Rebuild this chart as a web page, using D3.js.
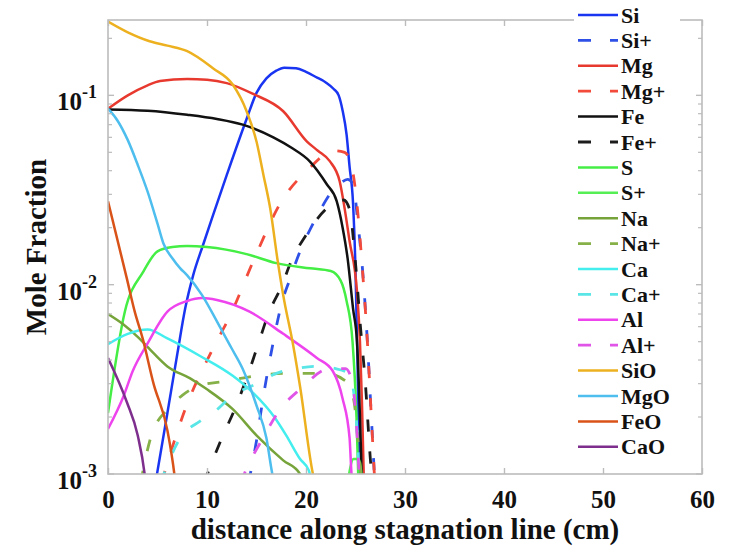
<!DOCTYPE html>
<html>
<head>
<meta charset="utf-8">
<script src="https://cdn.jsdelivr.net/npm/d3@7"></script>
<style>
  html, body { margin: 0; padding: 0; background: #fff; }
  svg { display: block; font-family: "Liberation Serif", "Times New Roman", serif; font-weight: bold; }
</style>
</head>
<body>
<svg id="chart" width="730" height="555"></svg>
<script>
// Mole fraction profiles along the stagnation line, as [distance (cm), mole fraction]
const Si = [[4.8,0.0009],[6,0.0021],[7,0.0043],[7.8,0.0075],[8.6,0.0112],[9.6,0.0162],[10.5,0.0224],[12,0.038],[14,0.075],[15,0.103],[16,0.123],[17,0.135],[17.8,0.14],[19,0.139],[20,0.133],[21,0.125],[22,0.117],[22.8,0.108],[23.3,0.1],[23.7,0.083],[24.1,0.062],[24.4,0.042],[24.75,0.027],[25.0,0.012],[25.2,0.004],[25.4,0.0009]];
const SiIon = [[14.2,0.0009],[15.0,0.0015],[15.6,0.0024],[16.7,0.005],[17.5,0.0078],[18.4,0.0108],[19.4,0.015],[20.4,0.0195],[21.4,0.0245],[22.4,0.03],[23.4,0.034],[24.2,0.036],[24.75,0.034],[25.25,0.021],[25.75,0.0113],[26.2,0.005],[26.6,0.002],[26.95,0.0009]];
const Mg = [[0,0.085],[2,0.1],[4,0.113],[5.25,0.119],[8,0.122],[10,0.121],[12,0.116],[14.6,0.102],[17.7,0.0824],[20.1,0.057],[21.2,0.051],[22.4,0.0449],[23.4,0.0352],[23.9,0.0253],[24.4,0.017],[25.15,0.0092],[25.45,0.005],[25.65,0.0024],[25.85,0.0009]];
const MgIon = [[5.4,0.0009],[7.8,0.0022],[10.6,0.0046],[12.3,0.0068],[14.8,0.0138],[17.6,0.028],[20.1,0.04],[22.9,0.051],[23.9,0.05],[24.7,0.04],[25.2,0.025],[25.7,0.012],[26.2,0.005],[26.6,0.002],[26.95,0.0009]];
const Fe = [[0,0.0843],[4,0.083],[8,0.079],[11,0.075],[13.6,0.07],[16.7,0.06],[18.5,0.053],[20.4,0.0447],[22.1,0.0339],[23.1,0.0276],[23.7,0.020],[24.2,0.0138],[24.75,0.0075],[25.15,0.005],[25.45,0.002],[25.65,0.0009]];
const FeIon = [[9.7,0.0009],[11.5,0.00155],[12.8,0.0022],[14.0,0.0032],[15.2,0.0049],[16.2,0.007],[17.6,0.010],[18.4,0.0129],[20.1,0.0186],[22.1,0.0253],[23.1,0.0276],[23.8,0.028],[24.4,0.025],[25.0,0.013],[25.5,0.006],[26.0,0.003],[26.5,0.0012],[26.7,0.0009]];
const S = [[0,0.0021],[1.7,0.0072],[3.6,0.0118],[5,0.0150],[6.5,0.0158],[8,0.016],[10,0.0158],[14,0.0145],[17,0.013],[20.4,0.0122],[22.5,0.0118],[23.5,0.0105],[24.1,0.0082],[24.7,0.005],[25.1,0.002],[25.3,0.0009]];
const SIon = [[24.2,0.0009],[24.8,0.0012],[25.3,0.0012],[25.7,0.0009]];
const Na = [[0,0.0070],[1.5,0.0062],[3,0.0053],[4.5,0.0044],[6,0.0037],[8.3,0.0032],[10,0.0028],[12.6,0.0022],[15,0.0016],[17.7,0.00118],[19.4,0.001],[19.6,0.00095]];
const NaIon = [[3.3,0.0009],[4.3,0.00155],[6,0.0022],[7.5,0.0026],[9,0.0029],[12,0.0031],[15,0.0033],[18,0.0034],[22,0.0034],[24,0.0031],[24.8,0.0025],[25.3,0.0014],[25.6,0.0009]];
const Ca = [[0,0.00485],[2,0.0055],[4,0.0058],[6,0.0052],[9.3,0.0042],[12.6,0.0033],[14.6,0.0027],[16.8,0.0020],[18,0.0016],[19.4,0.0012],[20.3,0.00104],[20.5,0.0009]];
const CaIon = [[5.3,0.0009],[7.3,0.00155],[9.3,0.0019],[10.6,0.0021],[12.6,0.0026],[15,0.003],[17,0.0034],[19,0.0036],[21,0.0037],[23,0.0036],[24.3,0.0034],[24.9,0.0025],[25.3,0.0012],[25.4,0.0009]];
const Al = [[0,0.00173],[1.6,0.0026],[2.5,0.0035],[4,0.0049],[6,0.0072],[8,0.0082],[9.5,0.0085],[11,0.0083],[14.3,0.0072],[17.7,0.0055],[21.1,0.0041],[22.7,0.0035],[23.7,0.0025],[24.4,0.00155],[24.6,0.001],[24.7,0.0009]];
const AlIon = [[13.4,0.0009],[14,0.00107],[15.5,0.0015],[17.4,0.0022],[19.4,0.0028],[22.4,0.0036],[24,0.0036],[24.7,0.003],[25.1,0.0018],[25.4,0.0009]];
const SiO = [[0,0.245],[2,0.215],[4.2,0.193],[6,0.183],[8,0.171],[10.6,0.139],[12.6,0.114],[14,0.0824],[15,0.057],[15.7,0.038],[16.4,0.025],[17.1,0.0138],[17.7,0.0088],[18.7,0.0048],[19.4,0.0029],[20.7,0.001],[20.9,0.0009]];
const MgO = [[0,0.085],[1,0.073],[2,0.058],[3,0.043],[4,0.031],[5,0.021],[5.6,0.0165],[6.5,0.0138],[7.3,0.0122],[8,0.0112],[9.5,0.0088],[11,0.0064],[12.5,0.0046],[13.6,0.0036],[15,0.0023],[16,0.00155],[16.6,0.001],[16.8,0.0009]];
const FeO = [[0,0.0276],[1.9,0.0108],[2.7,0.0072],[3.5,0.0052],[4.6,0.003],[6,0.0017],[6.7,0.001],[6.8,0.0009]];
const CaO = [[0,0.0041],[1.9,0.0024],[3.0,0.0016],[3.7,0.001],[3.8,0.0009]];

const speciesNames = ["Si","Si+","Mg","Mg+","Fe","Fe+","S","S+","Na","Na+","Ca","Ca+","Al","Al+","SiO","MgO","FeO","CaO"];
const xTicks = [0, 10, 20, 30, 40, 50, 60];
const yTicks = [1e-3, 1e-2, 1e-1];
const yTickExponents = ["-3", "-2", "-1"];
const xDomain = [0, 60];
const yDomain = [1e-3, 0.25];

const profiles = {
  "Si": Si, "Si+": SiIon, "Mg": Mg, "Mg+": MgIon, "Fe": Fe, "Fe+": FeIon,
  "S": S, "S+": SIon, "Na": Na, "Na+": NaIon, "Ca": Ca, "Ca+": CaIon,
  "Al": Al, "Al+": AlIon, "SiO": SiO, "MgO": MgO, "FeO": FeO, "CaO": CaO
};

// line colour and dash for each species
const DASH = "12,20";
const styles = {
  "Si":  { color: "#1a35f2", dash: null },
  "Si+": { color: "#2f50e6", dash: DASH },
  "Mg":  { color: "#e8392f", dash: null },
  "Mg+": { color: "#f24b3b", dash: DASH },
  "Fe":  { color: "#111111", dash: null },
  "Fe+": { color: "#1c1c1c", dash: DASH },
  "S":   { color: "#44ee44", dash: null },
  "S+":  { color: "#55ef55", dash: null },
  "Na":  { color: "#77a43a", dash: null },
  "Na+": { color: "#86b048", dash: DASH },
  "Ca":  { color: "#44eeee", dash: null },
  "Ca+": { color: "#5ae6e6", dash: DASH },
  "Al":  { color: "#ee44ee", dash: null },
  "Al+": { color: "#e055e8", dash: DASH },
  "SiO": { color: "#edb120", dash: null },
  "MgO": { color: "#4dbeee", dash: null },
  "FeO": { color: "#d95319", dash: null },
  "CaO": { color: "#7e2f8e", dash: null }
};

const svg = d3.select("#chart");
const plot = { left: 108, right: 702, top: 20, bottom: 474 };
const axisGray = "#bcbcbc";

const x = d3.scaleLinear().domain(xDomain).range([plot.left, plot.right]);
const y = d3.scaleLog().domain(yDomain).range([plot.bottom, plot.top]);

svg.append("defs").append("clipPath").attr("id", "plot-clip")
  .append("rect")
  .attr("x", plot.left).attr("y", plot.top)
  .attr("width", plot.right - plot.left).attr("height", plot.bottom - plot.top);

// species curves
const line = d3.line()
  .x(d => x(d[0]))
  .y(d => y(d[1]))
  .curve(d3.curveMonotoneX);

const curves = svg.append("g").attr("clip-path", "url(#plot-clip)");
speciesNames.forEach(name => {
  const st = styles[name];
  curves.append("path")
    .datum(profiles[name])
    .attr("d", line)
    .attr("fill", "none")
    .attr("stroke", st.color)
    .attr("stroke-width", st.dash ? 2.8 : 2.5)
    .attr("stroke-dasharray", st.dash)
    .attr("stroke-linejoin", "round");
});

// axes box with inward ticks on all four sides
const axes = svg.append("g");
axes.append("rect")
  .attr("x", plot.left).attr("y", plot.top)
  .attr("width", plot.right - plot.left).attr("height", plot.bottom - plot.top)
  .attr("fill", "none").attr("stroke", axisGray).attr("stroke-width", 1.6);

const xAxis = d3.axisBottom(x).tickValues(xTicks).tickFormat(d3.format("d"))
  .tickSizeInner(-6).tickSizeOuter(0).tickPadding(16);
const gx = axes.append("g").attr("transform", `translate(0,${plot.bottom})`).call(xAxis);
gx.select(".domain").remove();
gx.selectAll(".tick line").attr("stroke", axisGray).attr("stroke-width", 1.4);
gx.selectAll(".tick text")
  .attr("fill", "#111").style("font-size", "25px")
  .style("font-family", "'Liberation Serif', 'Times New Roman', serif").style("font-weight", "bold");

const xAxisTop = d3.axisTop(x).tickValues(xTicks).tickFormat("").tickSizeInner(-6).tickSizeOuter(0);
const gxt = axes.append("g").attr("transform", `translate(0,${plot.top})`).call(xAxisTop);
gxt.select(".domain").remove();
gxt.selectAll(".tick line").attr("stroke", axisGray).attr("stroke-width", 1.4);

// log-scale major and minor ticks on left and right
const minorTicks = [];
yTicks.forEach(decade => {
  for (let k = 2; k <= 9; k++) {
    const v = k * decade;
    if (v <= yDomain[1]) minorTicks.push(v);
  }
});
[[plot.left, 1], [plot.right, -1]].forEach(([x0, dir]) => {
  axes.selectAll(null).data(yTicks).join("line")
    .attr("x1", x0).attr("x2", x0 + dir * 6)
    .attr("y1", d => y(d)).attr("y2", d => y(d))
    .attr("stroke", axisGray).attr("stroke-width", 1.4);
  axes.selectAll(null).data(minorTicks).join("line")
    .attr("x1", x0).attr("x2", x0 + dir * 4)
    .attr("y1", d => y(d)).attr("y2", d => y(d))
    .attr("stroke", axisGray).attr("stroke-width", 1.2);
});

// y tick labels as powers of ten
yTicks.forEach((v, i) => {
  const t = axes.append("text")
    .attr("x", plot.left - 11)
    .attr("y", y(v) + 15)
    .attr("text-anchor", "end")
    .attr("fill", "#111");
  t.append("tspan").style("font-size", "25px").text("10");
  t.append("tspan").style("font-size", "18px").attr("dy", -12).text(yTickExponents[i]);
});

// axis titles
svg.append("text")
  .attr("x", (plot.left + plot.right) / 2).attr("y", 539)
  .attr("text-anchor", "middle").attr("fill", "#111")
  .style("font-size", "29px")
  .text("distance along stagnation line (cm)");

svg.append("text")
  .attr("transform", `translate(46,${(plot.top + plot.bottom) / 2}) rotate(-90)`)
  .attr("text-anchor", "middle").attr("fill", "#111")
  .style("font-size", "29px")
  .text("Mole Fraction");

// legend
const legend = svg.append("g");
legend.append("rect")
  .attr("x", 574).attr("y", 0).attr("width", 106).attr("height", 462)
  .attr("fill", "#fff");
const rowStep = 25.4, rowTop = 15;
speciesNames.forEach((name, i) => {
  const st = styles[name];
  const cy = rowTop + i * rowStep;
  legend.append("line")
    .attr("x1", 578).attr("x2", 618).attr("y1", cy).attr("y2", cy)
    .attr("stroke", st.color).attr("stroke-width", st.dash ? 2.8 : 2.5)
    .attr("stroke-dasharray", st.dash ? "13,19" : null);
  legend.append("text")
    .attr("x", 621).attr("y", cy + 7.5)
    .attr("fill", "#111").style("font-size", "22px")
    .text(name);
});
</script>
</body>
</html>
